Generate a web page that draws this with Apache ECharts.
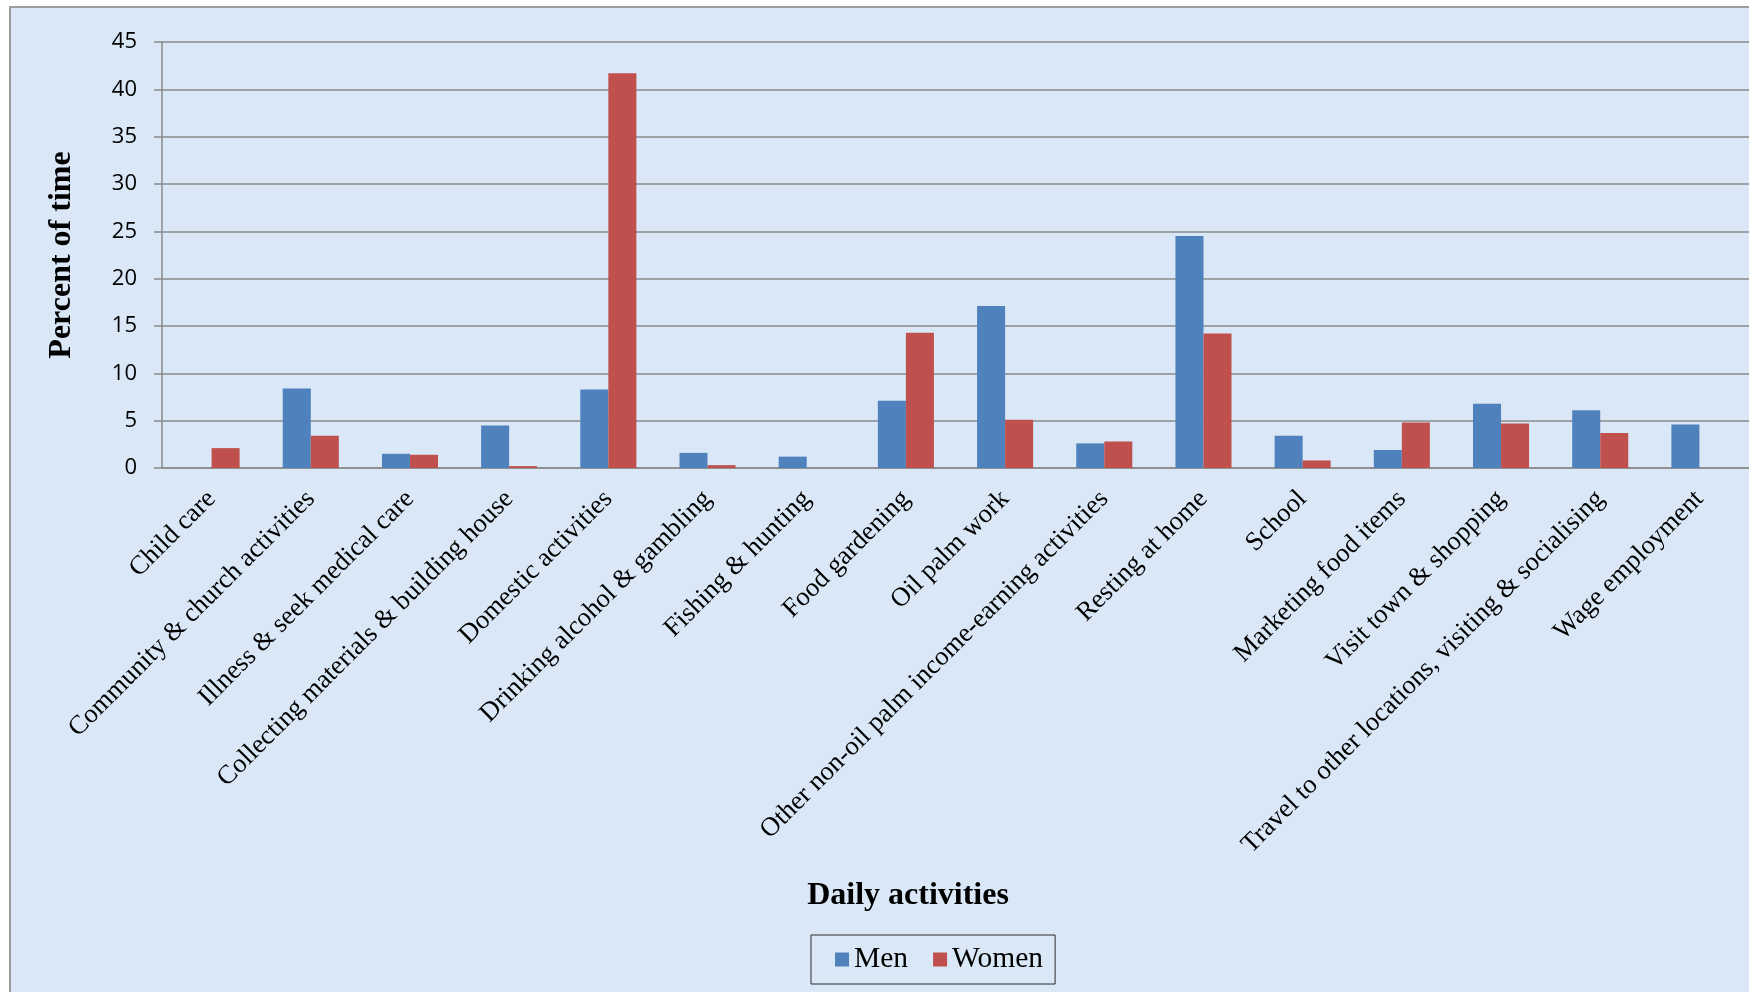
<!DOCTYPE html>
<html>
<head>
<meta charset="utf-8">
<script src="https://cdn.jsdelivr.net/npm/echarts@6/dist/echarts.min.js"></script>
<style>
  html, body { margin: 0; padding: 0; background: #ffffff; }
  #frame {
    position: absolute; left: 9px; top: 6px; width: 1760px; height: 1000px;
    background: #d9e7f6;
    border-left: 2px solid #9c9c9c; border-top: 2px solid #9c9c9c;
    box-sizing: border-box;
  }
  #chart { position: absolute; left: 0; top: 0; width: 1749px; height: 992px; }
</style>
</head>
<body>
<div id="frame"></div>
<div id="chart"></div>
<script>
// Share of time spent on each daily activity, by sex (%)
const categories = [
  'Child care',
  'Community & church activities',
  'Illness & seek medical care',
  'Collecting materials & building house',
  'Domestic activities',
  'Drinking alcohol & gambling',
  'Fishing & hunting',
  'Food gardening',
  'Oil palm work',
  'Other non-oil palm income-earning activities',
  'Resting at home',
  'School',
  'Marketing food items',
  'Visit town & shopping',
  'Travel to other locations, visiting & socialising',
  'Wage employment'
];
const men   = [0, 8.4, 1.5, 4.5, 8.3, 1.6, 1.2, 7.1, 17.1, 2.6, 24.5, 3.4, 1.9, 6.8, 6.1, 4.6];
const women = [2.1, 3.4, 1.4, 0.2, 41.7, 0.3, 0, 14.3, 5.1, 2.8, 14.2, 0.8, 4.8, 4.7, 3.7, 0];
const yTicks = { min: 0, max: 45, interval: 5 };

const serif = "'Liberation Serif', 'Times New Roman', serif";
const gridGray = '#8a8a8a';

const chart = echarts.init(document.getElementById('chart'), null, { renderer: 'canvas' });
chart.setOption({
  backgroundColor: 'transparent',
  animation: false,
  title: {
    text: 'Daily activities',
    left: 903,
    top: 875,
    textAlign: 'center',
    textStyle: { fontFamily: serif, fontWeight: 'bold', fontSize: 32, color: '#000' }
  },
  legend: {
    data: ['Men', 'Women'],
    left: 811,
    top: 935,
    padding: [9, 12, 9, 24],
    itemGap: 25,
    itemWidth: 14,
    itemHeight: 14,
    icon: 'rect',
    borderColor: '#2b2b2b',
    borderWidth: 1,
    textStyle: { fontFamily: serif, fontSize: 29.5, color: '#000', lineHeight: 31 }
  },
  grid: { left: 162, right: 0, top: 42, bottom: 524, containLabel: false },
  xAxis: {
    type: 'category',
    data: categories,
    axisLine: { show: true, lineStyle: { color: gridGray, width: 1.5 } },
    axisTick: { show: false },
    axisLabel: {
      interval: 0,
      rotate: 45,
      margin: 27,
      fontFamily: serif,
      fontSize: 26.6,
      color: '#000'
    }
  },
  yAxis: {
    type: 'value',
    min: yTicks.min,
    max: yTicks.max,
    interval: yTicks.interval,
    name: 'Percent of time',
    nameLocation: 'middle',
    nameGap: 84,
    nameRotate: 90,
    nameTextStyle: { fontFamily: serif, fontWeight: 'bold', fontSize: 32, color: '#000' },
    axisLine: { show: true, lineStyle: { color: gridGray, width: 1.5 } },
    axisTick: { show: true, length: 8, lineStyle: { color: gridGray, width: 1.5 } },
    axisLabel: { margin: 25, fontFamily: "'Open Sans', sans-serif", fontSize: 22, color: '#000' },
    splitLine: { show: true, lineStyle: { color: gridGray, width: 1.5 } }
  },
  series: [
    {
      name: 'Men',
      type: 'bar',
      data: men,
      barGap: '0%',
      barCategoryGap: '43.5%',
      itemStyle: { color: '#4f81bd' }
    },
    {
      name: 'Women',
      type: 'bar',
      data: women,
      barGap: '0%',
      barCategoryGap: '43.5%',
      itemStyle: { color: '#c0504d' }
    }
  ]
});
</script>
</body>
</html>
